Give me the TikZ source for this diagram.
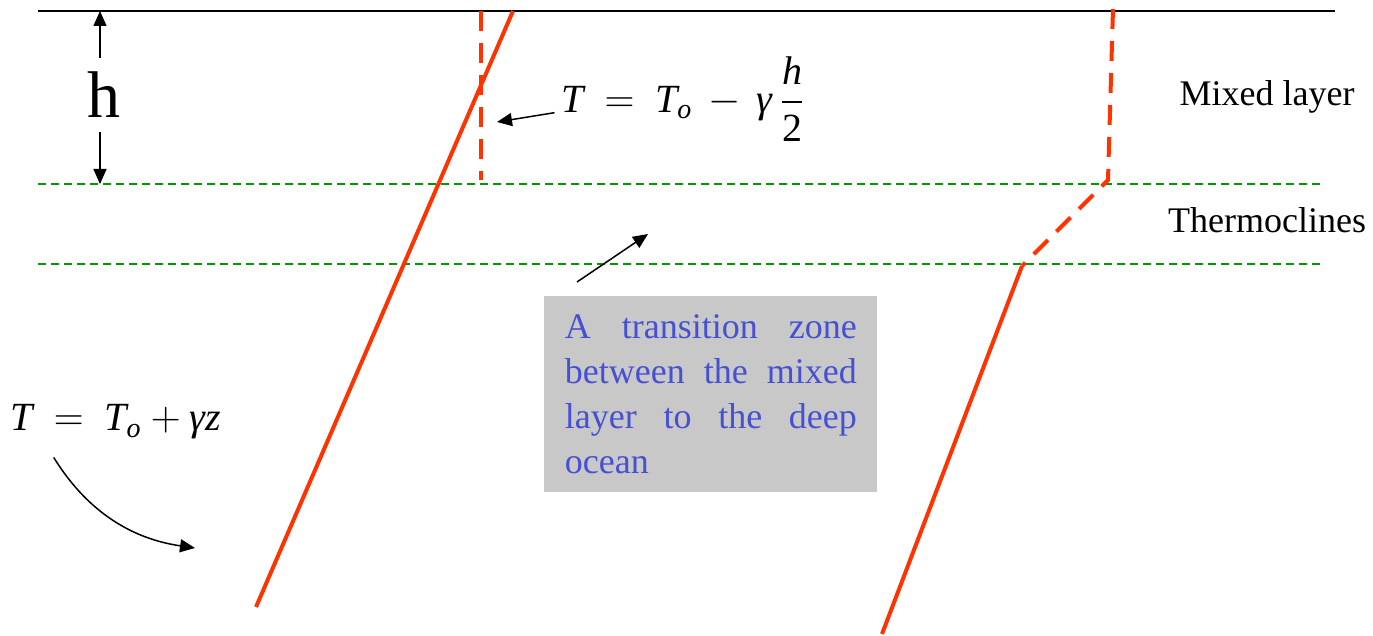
\documentclass[tikz,border=0pt]{standalone}
\usepackage{amsmath}
\usepackage{fontspec}
\setmainfont{Liberation Serif}
\usetikzlibrary{arrows.meta,calc}
\definecolor{profred}{RGB}{255,51,0}
\definecolor{layergreen}{RGB}{0,153,0}
\definecolor{noteblue}{RGB}{70,80,210}
\definecolor{notegray}{RGB}{200,200,200}

\begin{document}
\begin{tikzpicture}[x=0.5pt,y=-0.5pt,
  profile/.style={profred, line width=2pt},
  profdash/.style={profred, line width=2pt, dash pattern=on 10pt off 6pt},
  layerline/.style={layergreen, line width=0.75pt, dash pattern=on 4pt off 2.5pt},
  pointer/.style={-{Triangle[length=7.5pt,width=6.5pt]}, line width=0.75pt},
  eqn/.style={font=\fontsize{20}{24}\selectfont},
  layername/.style={font=\fontsize{18}{22}\selectfont},
  zonebox/.style={fill=notegray, text=noteblue, anchor=north west,
    text width=146pt, inner xsep=10.25pt, minimum height=98pt, align=justify,
    font=\fontsize{18}{22.5}\selectfont}]
  \useasboundingbox (0,0) rectangle (1373,636);
  \def\ytop{11}
  \def\ymix{184}
  \def\ythermo{264}
  % layer boundaries
  \draw[layerline] (38,\ymix) -- (1320,\ymix);
  \draw[layerline] (38,\ythermo) -- (1320,\ythermo);
  \draw[line width=1pt] (38,\ytop) -- (1335,\ytop);
  % temperature profiles
  \draw[profile] (513,\ytop) -- (256,607);
  \draw[profdash] (481,\ytop) -- (481,180);
  \draw[profdash] (1113,9) -- (1108,180) -- (1022,266);
  \draw[profile] (1022,266) -- (882,634);
  % mixed layer depth
  \node[font=\fontsize{33}{36}\selectfont, inner ysep=7pt] (h) at (104,95) {h};
  \coordinate (htop) at (100,\ytop);
  \coordinate (hbot) at (100,\ymix);
  \draw[pointer] (h.north -| htop) -- (htop);
  \draw[pointer] (h.south -| hbot) -- (hbot);
  % labels
  \node[layername] (mixed) at (1267,97) {Mixed layer};
  \node[layername] (thermo) at (1267,220) {Thermoclines};
  \node[eqn] (mixT) at (683,99)
    {$\textit{T}\:=\:\textit{T}_{\textit{o}}\,-\,\textit{γ}\,\dfrac{\textit{h}}{\textup{2}}$};
  \coordinate (mixTend) at (497,122);
  \draw[pointer] (mixT.base west) -- (mixTend);
  \node[eqn] (deepT) at (116,422)
    {$\textit{T}\:=\:\textit{T}_{\textit{o}}+\textit{γz}$};
  \coordinate (deepTend) at (195,548);
  \draw[pointer] ($(deepT.south west)+(50,11)$) .. controls (80,500) and (120,537) .. (deepTend);
  % transition zone note
  \node[zonebox] (zone) at (544,296)
    {\hyphenpenalty=10000 \tolerance=10000 A transition zone between the mixed layer to the deep ocean};
  \coordinate (zoneend) at (648,234);
  \draw[pointer] ($(zone.north west)+(33,-14)$) -- (zoneend);
\end{tikzpicture}
\end{document}
